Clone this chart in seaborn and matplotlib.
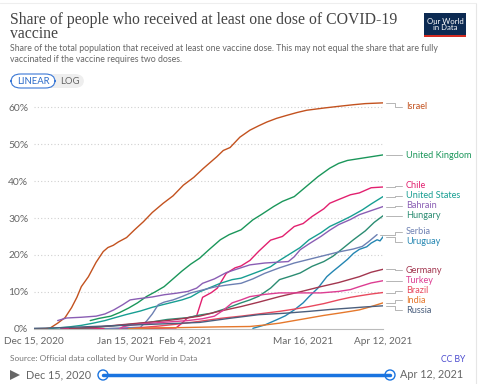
import matplotlib
matplotlib.use("Agg")
import matplotlib.pyplot as plt
from matplotlib.patches import FancyBboxPatch, Rectangle, Circle, Polygon
import numpy as np
import pandas as pd
import seaborn as sns

START = pd.Timestamp("2020-12-15")

countries = ["Israel", "United Kingdom", "Chile", "United States", "Bahrain", "Hungary",
             "Serbia", "Uruguay", "Germany", "Turkey", "Brazil", "India", "Russia"]

israel_d = [0, 4, 5.5, 8, 10.5, 12.7, 14.5, 16, 18.4, 21, 23.4, 25, 26.8, 28.5, 31.3, 34, 37, 40, 43.7, 47, 50.5, 54, 57.2, 59.5, 61.8, 64, 66.3, 69.6, 73, 76, 78.7, 82, 85.4, 89, 92.2, 98, 103.4, 108, 112, 115, 118]
israel_v = [0, 0, 0.2, 1.5, 3, 5.7, 8.5, 11.4, 14.1, 18, 20.9, 22, 22.6, 23.5, 24.7, 26.8, 29, 31.5, 34, 36, 38.9, 41, 43.4, 45, 46.6, 48.3, 49.1, 51.9, 53.8, 55, 56, 57, 57.8, 58.6, 59.2, 59.8, 60.3, 60.7, 61, 61.1, 61.2]

uk_d = [19, 22, 26, 29, 32, 35, 38, 41, 44, 47, 50, 53, 56, 59, 63, 66, 70, 74, 77, 81, 84, 88, 92, 96, 100, 103, 106, 110, 114, 118]
uk_v = [2.2, 2.8, 3.4, 4.4, 5.6, 7, 8.7, 10, 11.4, 13.5, 15.6, 17.5, 19.1, 21.3, 24.1, 25.5, 26.8, 29.5, 31, 33.1, 34.5, 35.8, 38.5, 41.2, 43.5, 44.8, 45.6, 46.1, 46.6, 47.1]

chile_d = [9, 20, 40, 48, 50, 52, 54, 55, 57, 60, 62, 65, 68, 70, 73, 76, 80, 84, 88, 91, 94, 98, 100, 103, 107, 110, 114, 118]
chile_v = [0, 0, 0.1, 0.2, 1.5, 3, 3.3, 3.5, 8.5, 9.8, 11, 15, 16.5, 17, 18.5, 21, 24, 25, 27.7, 28.5, 30.4, 32.5, 34, 35, 36.3, 36.8, 38.2, 38.4]

us_d = [5, 8, 12, 16, 20, 24, 27, 31, 36, 40, 46, 50, 53, 56, 60, 63, 67, 70, 73, 77, 80, 83, 87, 90, 93, 97, 100, 104, 107, 111, 114, 118]
us_v = [0, 0.2, 0.5, 0.9, 1.5, 2.2, 2.9, 3.8, 4.8, 5.8, 7, 7.8, 8.6, 10, 11.3, 12.3, 13.3, 13.7, 14.6, 15.8, 16.8, 18.5, 20.5, 22, 24.1, 26, 27.7, 29.2, 30.4, 32.2, 33.8, 35.8]

bahrain_d = [8, 11, 16, 21, 24, 27, 30, 32.5, 35, 37, 40, 44, 48, 52, 55, 57, 61, 65, 68, 73, 78, 82, 86, 88, 90, 93, 97, 100, 103, 107, 110, 114, 118]
bahrain_v = [2.2, 2.9, 3.1, 3.4, 4, 5.1, 6.5, 7.8, 8.1, 8.3, 8.6, 9.2, 9.6, 10.1, 11, 12.3, 13.5, 15.2, 16, 17.3, 17.8, 18, 18.2, 19.5, 21.4, 23, 25, 26.7, 28.2, 29.6, 30.9, 32, 33.1]

hungary_d = [12, 20, 30, 38, 45, 52, 56, 60, 65, 70, 73, 76, 80, 83, 87, 90, 94, 98, 101, 104, 108, 112, 115, 118]
hungary_v = [0, 0.3, 1, 1.6, 2.5, 3, 3.7, 4.2, 5.5, 7, 7.8, 8.8, 11, 13.3, 14.3, 15.1, 16.9, 18.2, 19.6, 21.5, 24.1, 26.5, 28.8, 30.6]

serbia_d = [24, 36, 38, 40, 42, 44, 47, 50, 53, 57, 61, 65, 70, 74, 78, 83, 88, 93, 98, 103, 108, 111, 113, 116]
serbia_v = [0, 0.4, 2, 4, 6.5, 7.2, 7.8, 8.7, 9.7, 10.5, 11.3, 11.8, 12.3, 13.5, 15, 16.5, 17.8, 18.8, 19.8, 20.8, 21.6, 22.3, 23.5, 25.5]

uruguay_d = [74, 78, 82, 85, 88, 91, 93, 96, 99, 101, 103, 106, 108, 110, 112.5, 114, 116, 117, 118]
uruguay_v = [0.1, 1, 2.4, 3.5, 5.1, 7, 8.7, 11, 14.1, 15.5, 16.8, 18.8, 20.4, 21.5, 22.2, 23.2, 24.1, 23.8, 24.9]

germany_d = [12, 16, 22, 30, 38, 45, 50, 56, 62, 70, 76, 83, 90, 97, 103, 110, 114, 118]
germany_v = [0, 0.2, 0.5, 1.1, 1.7, 2.2, 2.7, 3.4, 4.6, 6, 7.2, 8.7, 10, 11.4, 12.5, 14.1, 15.3, 16.1]

turkey_d = [29, 30, 33, 38, 45, 52, 57, 61, 64, 67, 70, 73, 78, 83, 90, 97, 103, 107, 110, 114, 118]
turkey_v = [0, 0.5, 1, 1.4, 1.8, 2.2, 2.7, 3.4, 5, 7, 7.8, 8.7, 9.3, 9.7, 9.7, 9.7, 10.1, 10.6, 11.4, 12.4, 13]

brazil_d = [33, 36, 42, 48, 53, 56, 63, 70, 76, 83, 88, 93, 98, 103, 107, 110, 114, 118]
brazil_v = [0, 0.3, 0.7, 1.2, 1.7, 2, 2.8, 3.4, 4, 4.7, 5.3, 6, 6.8, 7.8, 8.5, 8.9, 9.4, 9.8]

india_d = [32, 40, 50, 56, 63, 73, 78, 83, 88, 93, 98, 103, 107, 110, 114, 118]
india_v = [0, 0.2, 0.3, 0.4, 0.5, 0.6, 1, 1.5, 2.2, 2.9, 3.6, 4.2, 4.7, 5.1, 6, 7]

russia_d = [0, 10, 20, 30, 40, 50, 56, 66, 76, 85, 93, 100, 107, 112, 118]
russia_v = [0.1, 0.3, 0.6, 0.9, 1.2, 1.5, 1.7, 2.8, 3.8, 4.2, 4.7, 5.2, 5.6, 5.9, 6.2]

label_y = [60.1, 47.0, 38.7, 36.0, 33.3, 30.6, 26.3, 23.6, 15.9, 13.05, 10.3, 7.65, 4.95]

colors = ["#c3521f", "#1a965a", "#e2206f", "#179e92", "#8a5eb4", "#2b8c72",
          "#6d80b3", "#2486b2", "#a2364f", "#dd3d92", "#e8495e", "#e5782c", "#4b5f7d"]

x_ticks = ["2020-12-15", "2021-01-15", "2021-02-04", "2021-03-16", "2021-04-12"]
x_tick_labels = ["Dec 15, 2020", "Jan 15, 2021", "Feb 4, 2021", "Mar 16, 2021", "Apr 12, 2021"]
y_ticks = [0, 10, 20, 30, 40, 50, 60]

series = [(israel_d, israel_v), (uk_d, uk_v), (chile_d, chile_v), (us_d, us_v),
          (bahrain_d, bahrain_v), (hungary_d, hungary_v), (serbia_d, serbia_v),
          (uruguay_d, uruguay_v), (germany_d, germany_v), (turkey_d, turkey_v),
          (brazil_d, brazil_v), (india_d, india_v), (russia_d, russia_v)]

rows = []
for name, (dd, vv) in zip(countries, series):
    for d, v in zip(dd, vv):
        rows.append({"country": name, "date": START + pd.Timedelta(days=d), "value": v})
df = pd.DataFrame(rows)

sns.set_style("white")
plt.rcParams["font.family"] = ["Lato", "DejaVu Sans"]

fig = plt.figure(figsize=(4.8, 3.84), dpi=100)
L, R = 34 / 480, 383 / 480
B = 1 - 328.7 / 384
T = 1 - (328.7 - 62 * 3.69) / 384
ax = fig.add_axes([L, B, R - L, T - B])

palette = dict(zip(countries, colors))
sns.lineplot(data=df, x="date", y="value", hue="country", palette=palette,
             legend=False, linewidth=1.0, ax=ax, estimator=None, sort=True)

ax.set_xlim(START, pd.Timestamp("2021-04-12"))
ax.set_ylim(0, 62)
ax.set_xlabel("")
ax.set_ylabel("")
ax.set_yticks(y_ticks)
ax.set_yticklabels([f"{t}%" for t in y_ticks])
ax.set_xticks([pd.Timestamp(t) for t in x_ticks])
ax.set_xticklabels(x_tick_labels)
ax.tick_params(axis="y", length=0, pad=4, labelsize=7.4, labelcolor="#666666")
ax.tick_params(axis="x", length=4, width=0.6, color="#bbbbbb", pad=2, labelsize=7.2, labelcolor="#666666")
for s in ["top", "right", "left"]:
    ax.spines[s].set_visible(False)
ax.spines["bottom"].set_color("#bbbbbb")
ax.spines["bottom"].set_linewidth(0.8)
ax.set_axisbelow(True)
for t in y_ticks[1:]:
    ax.axhline(t, color="#d0d0d0", linewidth=0.8, linestyle=(0, (1, 2)), zorder=0)

# End labels with connectors
end_vals = [vv[-1] for (_, vv) in series]
end_days = [dd[-1] for (dd, _) in series]
trans = ax.get_yaxis_transform()
for name, col, ev, ed, ly in zip(countries, colors, end_vals, end_days, label_y):
    x0 = (ed * 2.958 + 3) / 349
    x1 = 1.034
    x2 = 1.055
    ax.plot([x0, x1, x1, x2], [ev, ev, ly, ly], transform=trans, color="#b5b5b5",
            linewidth=0.7, clip_on=False)
    ax.text(1.066, ly, name, transform=trans, color=col, fontsize=6.6,
            va="center", ha="left")

# Title & subtitle
fig.text(10 / 480, 1 - 27 / 384, "Share of people who received at least one dose of COVID-19\nvaccine",
         family=["Liberation Serif", "DejaVu Serif"], fontsize=11.3, color="#444444",
         va="center", ha="left", linespacing=0.85)
fig.text(10 / 480, 1 - 54 / 384,
         "Share of the total population that received at least one vaccine dose. This may not equal the share that are fully\nvaccinated if the vaccine requires two doses.",
         fontsize=6.3, color="#666666", va="center", ha="left", linespacing=1.35)

# LINEAR / LOG toggle
fig.patches.append(FancyBboxPatch((11 / 480, 1 - 88 / 384), 73 / 480, 14 / 384,
                                  boxstyle="round,pad=0,rounding_size=0.02",
                                  transform=fig.transFigure, facecolor="#eeeeee",
                                  edgecolor="none"))
fig.patches.append(FancyBboxPatch((11 / 480, 1 - 88 / 384), 44 / 480, 14 / 384,
                                  boxstyle="round,pad=0,rounding_size=0.02",
                                  transform=fig.transFigure, facecolor="white",
                                  edgecolor="#3a78d6", linewidth=0.8))
fig.text(33 / 480, 1 - 81 / 384, "LINEAR", fontsize=6.8, color="#2d6cc9",
         ha="center", va="center")
fig.text(69.5 / 480, 1 - 81 / 384, "LOG", fontsize=6.8, color="#666666",
         ha="center", va="center")

# OWID logo
fig.patches.append(Rectangle((424 / 480, 1 - 37 / 384), 42 / 480, 24 / 384,
                             transform=fig.transFigure, facecolor="#0c2a52", edgecolor="none"))
fig.patches.append(Rectangle((424 / 480, 1 - 37 / 384), 42 / 480, 2 / 384,
                             transform=fig.transFigure, facecolor="#d42b21", edgecolor="none"))
fig.text(445 / 480, 1 - 24.5 / 384, "Our World\nin Data", fontsize=5.6, color="white",
         ha="center", va="center", linespacing=1.0)

# Footer
fig.text(10 / 480, 1 - 359 / 384, "Source: Official data collated by Our World in Data",
         fontsize=6.0, color="#777777", ha="left", va="center")
fig.text(465 / 480, 1 - 359 / 384, "CC BY", fontsize=6.2, color="#4b4bcf",
         ha="right", va="center")

# Timeline
fig.patches.append(Polygon([[10 / 480, 1 - 370 / 384], [10 / 480, 1 - 380 / 384], [20 / 480, 1 - 375 / 384]],
                           closed=True, transform=fig.transFigure, facecolor="#666666",
                           edgecolor="none"))
fig.text(26 / 480, 1 - 375 / 384, "Dec 15, 2020", fontsize=7.8, color="#666666",
         ha="left", va="center")
fig.text(400 / 480, 1 - 375 / 384, "Apr 12, 2021", fontsize=7.8, color="#666666",
         ha="left", va="center")
fig.lines.append(plt.Line2D([103 / 480, 390 / 480], [1 - 375 / 384, 1 - 375 / 384],
                            transform=fig.transFigure, color="#1a74e0", linewidth=2.5))
for cx in (103, 390):
    fig.patches.append(Circle((cx, 384 - 375), 5, transform=None, facecolor="white",
                              edgecolor="#1a74e0", linewidth=1.0))

# frame borders
fig.lines.append(plt.Line2D([475.5 / 480, 475.5 / 480], [0, 1 - 3 / 384],
                            transform=fig.transFigure, color="#e6e6e6", linewidth=0.8))
fig.lines.append(plt.Line2D([0, 475.5 / 480], [1 - 3 / 384, 1 - 3 / 384],
                            transform=fig.transFigure, color="#eeeeee", linewidth=0.8))

fig.savefig("out.png", dpi=100)
